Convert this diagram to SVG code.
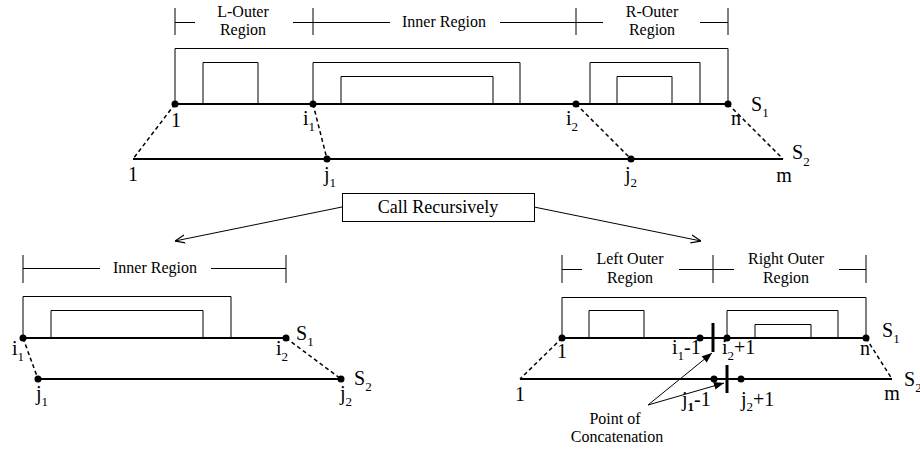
<svg xmlns="http://www.w3.org/2000/svg" width="920" height="451" viewBox="0 0 920 451">
<style>
text{font-family:"Liberation Serif","Times New Roman",serif;fill:#000}
.lbl{font-size:20px}
.sub{font-size:13px}
.reg{font-size:16px;text-anchor:middle}
.thin{fill:none;stroke:#000;stroke-width:1}
.seq{fill:none;stroke:#000;stroke-width:2}
.dash{fill:none;stroke:#000;stroke-width:1.5;stroke-dasharray:4 3}
.bar{fill:none;stroke:#000;stroke-width:3}
.dot{fill:#000}
</style>
<defs>
<marker id="open" viewBox="0 0 10 10" refX="10" refY="5" markerWidth="10" markerHeight="10" markerUnits="userSpaceOnUse" orient="auto">
<path d="M0,1 L10,5 L0,9" fill="none" stroke="#000" stroke-width="1.2"/>
</marker>
<marker id="fill" viewBox="0 0 10 10" refX="10" refY="5" markerWidth="12" markerHeight="10" markerUnits="userSpaceOnUse" orient="auto">
<path d="M0,1 L10,5 L0,9 Z" fill="#000"/>
</marker>
</defs>

<g id="top-diagram">
<g id="top-brackets">
<path class="thin" d="M175,8V35 M313,8V35 M576,8V35 M728,8V35 M175,22.5H195 M293,22.5H390 M500,22.5H603 M700,22.5H728"/>
<text class="reg" x="243" y="17">L-Outer</text>
<text class="reg" x="243" y="35">Region</text>
<text class="reg" x="444" y="27">Inner Region</text>
<text class="reg" x="652" y="17">R-Outer</text>
<text class="reg" x="652" y="35">Region</text>
</g>
<g id="top-boxes">
<path class="thin" d="M175,104V48.5H728V104"/>
<path class="thin" d="M203,104V62.5H258V104"/>
<path class="thin" d="M313,104V62.5H520V104"/>
<path class="thin" d="M341,104V76.5H493V104"/>
<path class="thin" d="M590,104V62.5H700V104"/>
<path class="thin" d="M617,104V76.5H672V104"/>
</g>
<g id="top-s1">
<line class="seq" x1="175" y1="104" x2="728" y2="104"/>
<circle class="dot" cx="175" cy="104" r="3.5"/>
<circle class="dot" cx="313" cy="104" r="3.5"/>
<circle class="dot" cx="576" cy="104" r="3.5"/>
<circle class="dot" cx="728" cy="104" r="3.5"/>
<text class="lbl" x="176" y="127" text-anchor="middle">1</text>
<text class="lbl" x="303" y="125">i<tspan class="sub" dy="6">1</tspan></text>
<text class="lbl" x="566" y="125">i<tspan class="sub" dy="6">2</tspan></text>
<text class="lbl" x="731" y="125">n</text>
<text class="lbl" x="751" y="111">S<tspan class="sub" dy="6">1</tspan></text>
</g>
<g id="top-s2">
<line class="seq" x1="133" y1="159" x2="783" y2="159"/>
<circle class="dot" cx="327" cy="159" r="3.5"/>
<circle class="dot" cx="631" cy="159" r="3.5"/>
<text class="lbl" x="133" y="181" text-anchor="middle">1</text>
<text class="lbl" x="324" y="181">j<tspan class="sub" dy="6">1</tspan></text>
<text class="lbl" x="625" y="181">j<tspan class="sub" dy="6">2</tspan></text>
<text class="lbl" x="784" y="182" text-anchor="middle">m</text>
<text class="lbl" x="792" y="159">S<tspan class="sub" dy="7">2</tspan></text>
</g>
</g>

<g id="call-recursively">
<rect class="thin" x="342.5" y="193.5" width="192" height="28"/>
<text x="438" y="213" font-size="18" text-anchor="middle">Call Recursively</text>
</g>

<g id="bottom-left">
<path class="thin" d="M23,255V283 M286,255V283 M23,268.5H100 M211,268.5H286"/>
<text class="reg" x="155" y="273">Inner Region</text>
<path class="thin" d="M23,338V296.5H231V338"/>
<path class="thin" d="M51,338V310.5H203V338"/>
<line class="seq" x1="23" y1="338" x2="286" y2="338"/>
<line class="seq" x1="38" y1="379" x2="341" y2="379"/>
<circle class="dot" cx="23" cy="338" r="3.5"/>
<circle class="dot" cx="286" cy="338" r="3.5"/>
<circle class="dot" cx="38" cy="379" r="3.5"/>
<circle class="dot" cx="341" cy="379" r="3.5"/>
<text class="lbl" x="12" y="355">i<tspan class="sub" dy="6">1</tspan></text>
<text class="lbl" x="276" y="355">i<tspan class="sub" dy="6">2</tspan></text>
<text class="lbl" x="296" y="340">S<tspan class="sub" dy="6">1</tspan></text>
<text class="lbl" x="354" y="385">S<tspan class="sub" dy="6">2</tspan></text>
<text class="lbl" x="36" y="400">j<tspan class="sub" dy="6">1</tspan></text>
<text class="lbl" x="340" y="400">j<tspan class="sub" dy="6">2</tspan></text>
</g>

<g id="bottom-right">
<path class="thin" d="M562,255V283 M713,255V283 M866,255V283 M562,269.5H582 M679,269.5H734 M839,269.5H866"/>
<text class="reg" x="630" y="264">Left Outer</text>
<text class="reg" x="630" y="283">Region</text>
<text class="reg" x="786" y="264">Right Outer</text>
<text class="reg" x="786" y="283">Region</text>
<path class="thin" d="M562,338V297.5H866V338"/>
<path class="thin" d="M589,338V310.5H644V338"/>
<path class="thin" d="M727,338V310.5H838V338"/>
<path class="thin" d="M755,338V324.5H811V338"/>
<line class="seq" x1="562" y1="338" x2="866" y2="338"/>
<line class="seq" x1="520" y1="379" x2="892" y2="379"/>
<circle class="dot" cx="562" cy="338" r="3.5"/>
<circle class="dot" cx="700" cy="338" r="3.5"/>
<circle class="dot" cx="727" cy="338" r="3.5"/>
<circle class="dot" cx="866" cy="338" r="3.5"/>
<circle class="dot" cx="714" cy="379" r="3.5"/>
<circle class="dot" cx="741" cy="379" r="3.5"/>
<line class="bar" x1="713" y1="323" x2="713" y2="352"/>
<line class="bar" x1="727" y1="365" x2="727" y2="393"/>
<text class="lbl" x="562" y="358" text-anchor="middle">1</text>
<text class="lbl" x="672" y="354">i<tspan class="sub" dy="6">1</tspan><tspan dy="-6">-1</tspan></text>
<text class="lbl" x="722" y="354">i<tspan class="sub" dy="6">2</tspan><tspan dy="-6">+1</tspan></text>
<text class="lbl" x="860" y="355">n</text>
<text class="lbl" x="882" y="337">S<tspan class="sub" dy="6">1</tspan></text>
<text class="lbl" x="904" y="386">S<tspan class="sub" dy="6">2</tspan></text>
<text class="lbl" x="520" y="401" text-anchor="middle">1</text>
<text class="lbl" x="892" y="400" text-anchor="middle">m</text>
<text class="lbl" x="682" y="406">j<tspan class="sub" dy="5" font-weight="bold">1</tspan><tspan dy="-5">-1</tspan></text>
<text class="lbl" x="741" y="406">j<tspan class="sub" dy="5">2</tspan><tspan dy="-5">+1</tspan></text>
<text class="reg" x="615" y="424">Point of</text>
<text class="reg" x="617" y="442">Concatenation</text>
</g>

<g id="connectors">
<line class="dash" x1="175" y1="104" x2="133" y2="159"/>
<line class="dash" x1="313" y1="104" x2="327" y2="159"/>
<line class="dash" x1="576" y1="104" x2="631" y2="159"/>
<line class="dash" x1="728" y1="104" x2="783" y2="159"/>
<line class="dash" x1="23" y1="338" x2="38" y2="379"/>
<line class="dash" x1="286" y1="338" x2="341" y2="379"/>
<line class="dash" x1="562" y1="338" x2="520" y2="379"/>
<line class="dash" x1="866" y1="338" x2="892" y2="379"/>
<line class="thin" x1="342" y1="207" x2="175" y2="241" marker-end="url(#open)"/>
<line class="thin" x1="534" y1="207" x2="701" y2="241" marker-end="url(#open)"/>
<line class="thin" x1="648" y1="405" x2="712" y2="353" marker-end="url(#fill)"/>
<line class="thin" x1="648" y1="405" x2="724" y2="383" marker-end="url(#fill)"/>
</g>
</svg>
